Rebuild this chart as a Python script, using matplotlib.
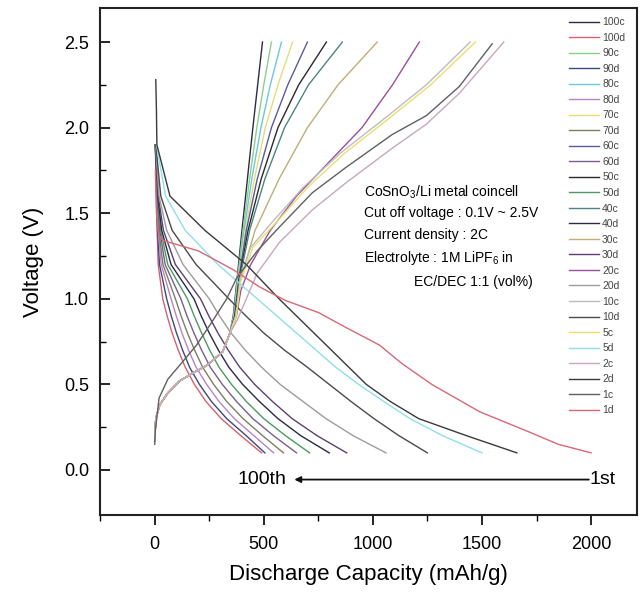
import matplotlib
matplotlib.use("Agg")
import matplotlib.pyplot as plt

plt.rcParams['font.family'] = ['Liberation Sans', 'DejaVu Sans']
plt.rcParams['mathtext.default'] = 'regular'

# discharge curves: capacity (mAh/g) read at common voltage levels
dis_v = [1.9, 1.6, 1.4, 1.2, 1.0, 0.9, 0.8, 0.7, 0.6, 0.5, 0.4, 0.3, 0.2, 0.1]
d100_cap = [3, 8, 11, 16, 37, 57, 80, 108, 140, 182, 235, 305, 395, 490]
d90_cap = [3, 9, 13, 22, 55, 76, 100, 128, 160, 205, 260, 330, 420, 505]
d80_cap = [3, 10, 16, 30, 75, 99, 125, 155, 190, 238, 295, 365, 455, 545]
d70_cap = [3, 11, 19, 38, 95, 121, 150, 183, 220, 270, 330, 405, 495, 590]
d60_cap = [3, 12, 23, 48, 120, 148, 180, 215, 255, 310, 375, 450, 545, 650]
d50_cap = [3, 13, 27, 60, 150, 181, 215, 252, 295, 352, 420, 500, 600, 710]
d40_cap = [3, 14, 32, 75, 180, 213, 250, 292, 340, 403, 480, 565, 670, 800]
d30_cap = [4, 16, 40, 95, 210, 248, 290, 337, 390, 458, 540, 630, 745, 880]
d20_cap = [4, 20, 55, 130, 250, 297, 350, 415, 490, 575, 680, 785, 910, 1060]
d10_cap = [5, 28, 80, 190, 340, 418, 500, 595, 700, 800, 900, 1005, 1120, 1250]
d5_cap = [8, 50, 140, 290, 470, 560, 650, 740, 830, 935, 1050, 1170, 1320, 1500]
d2_cap = [5, 8, 10, 70, 230, 420, 570, 650, 730, 810, 890, 970, 1080, 1210, 1430, 1660]
d2_v = [2.28, 2.1, 1.9, 1.6, 1.4, 1.2, 1.0, 0.9, 0.8, 0.7, 0.6, 0.5, 0.4, 0.3, 0.2, 0.1]
d1_cap = [3, 8, 20, 40, 200, 360, 480, 600, 750, 880, 1030, 1135, 1270, 1490, 1720, 1850, 2000]
d1_v = [1.75, 1.5, 1.37, 1.34, 1.28, 1.17, 1.07, 0.99, 0.92, 0.83, 0.73, 0.62, 0.5, 0.34, 0.22, 0.15, 0.1]

# charge curves: shared low-voltage part, then each cycle's upper part
chg_low_cap = [0, 5, 23, 60, 114, 180, 238, 311, 345]
chg_low_v = [0.17, 0.3, 0.38, 0.45, 0.52, 0.57, 0.61, 0.69, 0.8]
chg_v = [0.9, 1.12, 1.4, 1.7, 2.0, 2.25, 2.5]
c100_cap = [360, 378, 400, 425, 450, 472, 494]
c90_cap = [362, 380, 405, 435, 468, 500, 535]
c80_cap = [363, 382, 410, 445, 487, 530, 581]
c70_cap = [365, 384, 415, 457, 507, 565, 632]
c60_cap = [366, 386, 420, 470, 535, 610, 700]
c50_cap = [368, 388, 428, 488, 565, 660, 787]
c40_cap = [370, 390, 435, 505, 595, 705, 860]
c30_cap = [372, 395, 460, 570, 700, 840, 1020]
c20_cap = [375, 395, 440, 530, 650, 800, 950, 1090, 1213]
c20_v = [0.9, 1.05, 1.2, 1.4, 1.6, 1.8, 2.0, 2.25, 2.5]
c10_cap = [372, 392, 440, 540, 680, 850, 1050, 1245, 1446]
c10_v = [0.9, 1.12, 1.3, 1.45, 1.65, 1.85, 2.05, 2.25, 2.5]
c5_cap = [374, 394, 450, 560, 700, 870, 1070, 1265, 1470]
c5_v = [0.9, 1.1, 1.3, 1.45, 1.65, 1.85, 2.05, 2.25, 2.5]
c2_cap = [380, 420, 470, 572, 723, 879, 1089, 1245, 1396, 1600]
c2_v = [0.88, 1.0, 1.15, 1.33, 1.52, 1.68, 1.88, 2.02, 2.2, 2.5]
c1_cap = [0, 3, 20, 60, 120, 192, 260, 330, 375, 470, 572, 723, 879, 1089, 1245, 1396, 1547]
c1_v = [0.15, 0.23, 0.42, 0.53, 0.62, 0.73, 0.86, 1.0, 1.12, 1.28, 1.42, 1.62, 1.77, 1.96, 2.07, 2.24, 2.49]

labels = ['100c', '100d', '90c', '90d', '80c', '80d', '70c', '70d', '60c', '60d',
          '50c', '50d', '40c', '40d', '30c', '30d', '20c', '20d', '10c', '10d',
          '5c', '5d', '2c', '2d', '1c', '1d']
colors = ['#2b2b45', '#d8606f', '#8ccf8c', '#3a4a7a', '#6cc8dc', '#b884c8',
          '#e6dc78', '#7e7e62', '#5a5aa0', '#76608c', '#2a2a2a', '#4c9a60',
          '#4e8484', '#2a2a4a', '#bfae78', '#5a4070', '#9a4ea0', '#9c9c9c',
          '#bdbdbd', '#4a4a4a', '#e8e070', '#8ee0e8', '#c8a8bc', '#3a3a3a',
          '#606060', '#d86878']

curves = [
    (chg_low_cap + c100_cap, chg_low_v + chg_v), (d100_cap, dis_v),
    (chg_low_cap + c90_cap, chg_low_v + chg_v), (d90_cap, dis_v),
    (chg_low_cap + c80_cap, chg_low_v + chg_v), (d80_cap, dis_v),
    (chg_low_cap + c70_cap, chg_low_v + chg_v), (d70_cap, dis_v),
    (chg_low_cap + c60_cap, chg_low_v + chg_v), (d60_cap, dis_v),
    (chg_low_cap + c50_cap, chg_low_v + chg_v), (d50_cap, dis_v),
    (chg_low_cap + c40_cap, chg_low_v + chg_v), (d40_cap, dis_v),
    (chg_low_cap + c30_cap, chg_low_v + chg_v), (d30_cap, dis_v),
    (chg_low_cap + c20_cap, chg_low_v + c20_v), (d20_cap, dis_v),
    (chg_low_cap + c10_cap, chg_low_v + c10_v), (d10_cap, dis_v),
    (chg_low_cap + c5_cap, chg_low_v + c5_v), (d5_cap, dis_v),
    (chg_low_cap + c2_cap, chg_low_v + c2_v), (d2_cap, d2_v),
    (c1_cap, c1_v), (d1_cap, d1_v),
]

fig = plt.figure(figsize=(6.42, 5.96), dpi=100)
ax = fig.add_axes([0.156, 0.1359, 0.836, 0.8507])

for (x, y), lab, col in zip(curves, labels, colors):
    ax.plot(x, y, color=col, lw=1.0, label=lab)

ax.set_xlim(-250, 2210)
ax.set_ylim(-0.263, 2.699)
ax.set_xticks([0, 500, 1000, 1500, 2000])
ax.set_xticks([-250, 250, 750, 1250, 1750], minor=True)
ax.set_yticks([0.0, 0.5, 1.0, 1.5, 2.0, 2.5])
ax.set_yticks([0.25, 0.75, 1.25, 1.75, 2.25], minor=True)
ax.set_yticklabels(['0.0', '0.5', '1.0', '1.5', '2.0', '2.5'])
ax.tick_params(axis='x', which='major', direction='out', length=7, width=1.2, labelsize=13, pad=8)
ax.tick_params(axis='x', which='minor', direction='out', length=4, width=1.0)
ax.tick_params(axis='y', which='major', direction='in', length=7, width=1.2, labelsize=13, pad=8)
ax.tick_params(axis='y', which='minor', direction='in', length=4, width=1.0)
for s in ax.spines.values():
    s.set_linewidth(1.5)
    s.set_color('#222222')

ax.set_xlabel('Discharge Capacity (mAh/g)', fontsize=16, labelpad=8)
ax.set_ylabel('Voltage (V)', fontsize=16, labelpad=14)

# condition notes
ax.text(961, 1.62, 'CoSnO$_3$/Li metal coincell', fontsize=10, va='center')
ax.text(961, 1.50, 'Cut off voltage : 0.1V ~ 2.5V', fontsize=10, va='center')
ax.text(961, 1.37, 'Current density : 2C', fontsize=10, va='center')
ax.text(961, 1.24, 'Electrolyte : 1M LiPF$_6$ in', fontsize=10, va='center')
ax.text(1190, 1.10, 'EC/DEC 1:1 (vol%)', fontsize=10, va='center')

# cycle direction arrow
ax.annotate('', xy=(640, -0.056), xytext=(1990, -0.056),
            arrowprops=dict(arrowstyle='-|>', color='#111111', lw=1.3,
                            mutation_scale=9, shrinkA=0, shrinkB=0))
ax.text(1995, -0.056, '1st', fontsize=14, va='center', ha='left')
ax.text(605, -0.056, '100th', fontsize=14, va='center', ha='right')

ax.legend(loc='upper left', bbox_to_anchor=(0.886, 0.971), bbox_transform=fig.transFigure,
          frameon=False, fontsize=7.5, handlelength=2.9, handletextpad=0.3,
          labelspacing=0.53, borderpad=0, borderaxespad=0, labelcolor='#444444')

fig.savefig('out.png', dpi=100)
